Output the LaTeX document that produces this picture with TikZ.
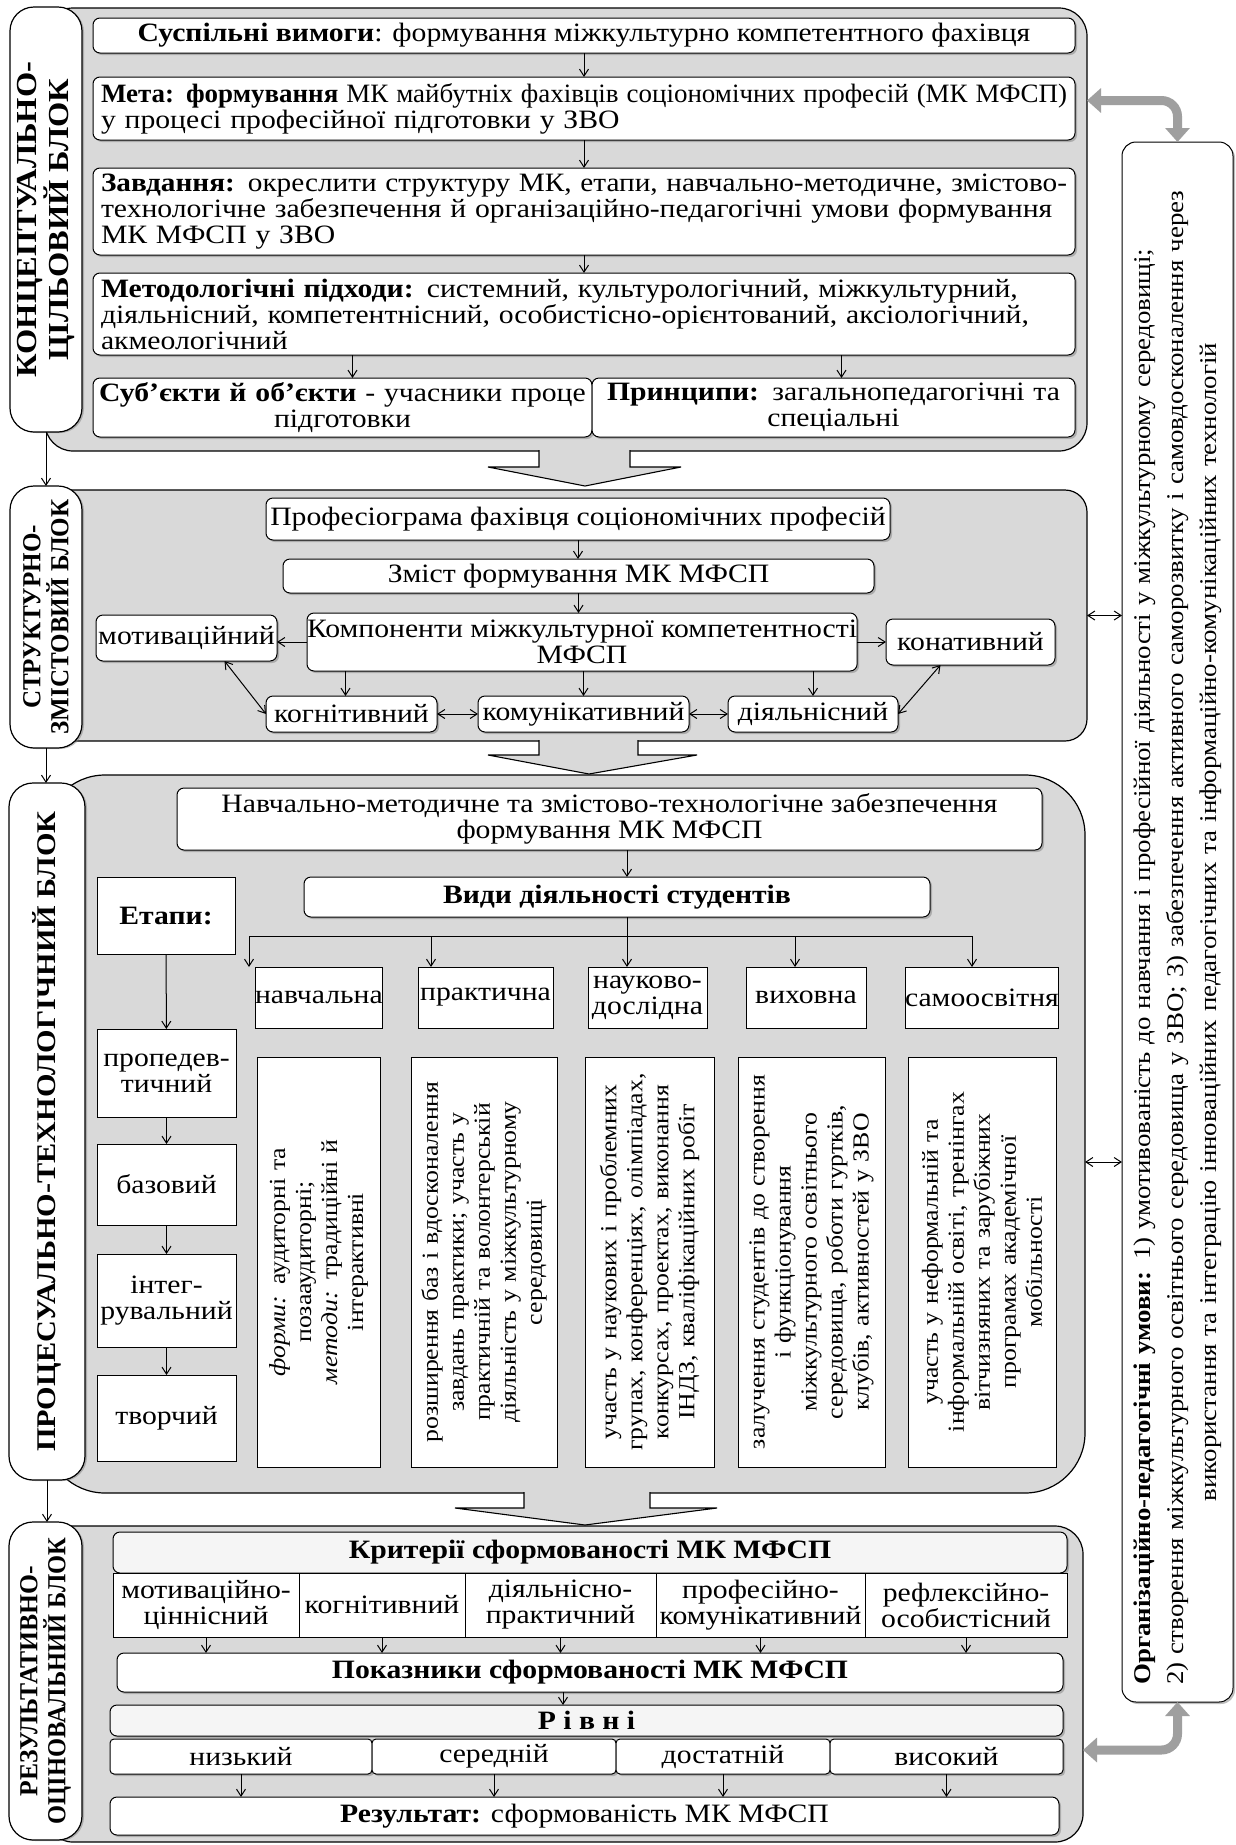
\documentclass[tikz,border=0pt]{standalone}
\usepackage{graphicx}
\usepackage{fontspec}
\setmainfont{Liberation Serif}[FakeStretch=1.12]
\usetikzlibrary{arrows.meta,shadows,calc}
\newcommand\fmain{\fontsize{26.5}{26}\selectfont}
\newcommand\fsmall{\fontsize{23}{26}\selectfont}
\newcommand\fright{\fontsize{24}{33}\selectfont}
\newsavebox\jlbox
\newcommand\jl[1]{\sbox\jlbox{#1}\ifdim\wd\jlbox>\hsize\resizebox{\hsize}{\height}{#1}\else\makebox[\hsize][s]{#1}\fi}
\begin{document}
\begin{tikzpicture}[x=1pt,y=-1pt,
 every node/.style={font=\fmain, inner sep=2pt, outer sep=0pt},
 greyblk/.style={draw=black, line width=1.2pt, fill=gray!30, anchor=north west},
 lab/.style={draw=black, line width=1.2pt, fill=white, rounded corners=24pt, anchor=north west, drop shadow={shadow xshift=2pt,shadow yshift=-1pt}},
 rbox/.style={draw=black, line width=1pt, fill=white, rounded corners=7pt, anchor=north west, drop shadow={shadow xshift=2pt,shadow yshift=-2pt}},
 lbox/.style={rbox, fill=gray!8},
 sbox/.style={draw=black, line width=1pt, fill=white, anchor=north west},
 vtext/.style={draw=black, line width=1pt, fill=white, rotate=90, font=\fsmall, align=center, inner sep=0pt},
 labtext/.style={rotate=90, align=center},
 arr/.style={-{Straight Barb[length=7pt,width=9pt]}, line width=1pt},
 darr/.style={{Straight Barb[length=7pt,width=9pt]}-{Straight Barb[length=7pt,width=9pt]}, line width=1pt},
 gthick/.style={draw=gray!75, line width=9pt, rounded corners=16pt, {Triangle[length=14pt,width=24pt]}-{Triangle[length=14pt,width=24pt]}},
 bigarr/.style={draw=black, line width=1.1pt, fill=gray!30, line join=miter}
]
\useasboundingbox (0,0) rectangle (1236,1845);
\fill[white] (0,0) rectangle (1236,1845);

% ---------- grey blocks ----------
\node[greyblk, rounded corners=28pt, minimum width=1042, minimum height=443] (g1) at (45,8) {};
\node[greyblk, rounded corners=22pt, minimum width=1042, minimum height=251] (g2) at (45,490) {};
\node[greyblk, rounded corners=60pt, minimum width=1040, minimum height=718] (g3) at (45,775) {};
\node[greyblk, rounded corners=28pt, minimum width=1038, minimum height=316] (g4) at (45,1526) {};

% big hollow arrows between blocks
\filldraw[bigarr] (539,450) -- (539,467) -- (488,467) -- (585,486) -- (681,467) -- (630,467) -- (630,450);
\filldraw[bigarr] (539,740) -- (539,755) -- (488,755) -- (589,774) -- (697,755) -- (638,755) -- (638,740);
\filldraw[bigarr] (524,1492) -- (524,1508) -- (455,1508) -- (585,1525) -- (717,1508) -- (650,1508) -- (650,1492);

% ---------- left labels ----------
\node[lab, minimum width=72, minimum height=425] (lab1) at (10,7) {};
\node[labtext, font=\fontsize{29}{28}\selectfont\bfseries] (lab1t) at (lab1.center) {КОНЦЕПТУАЛЬНО-\\ЦІЛЬОВИЙ БЛОК};
\node[lab, minimum width=72, minimum height=262] (lab2) at (10,486) {};
\node[labtext, font=\fontsize{26}{28}\selectfont\bfseries] (lab2t) at (lab2.center) {\scalebox{0.86}[1]{СТРУКТУРНО-}\\\scalebox{0.86}[1]{ЗМІСТОВИЙ БЛОК}};
\node[lab, minimum width=76, minimum height=697] (lab3) at (9,783) {};
\node[labtext, font=\fontsize{27}{28}\selectfont\bfseries] (lab3t) at (lab3.center) {ПРОЦЕСУАЛЬНО-ТЕХНОЛОГІЧНИЙ БЛОК};
\node[lab, minimum width=73, minimum height=318] (lab4) at (9,1522) {};
\node[labtext, font=\fontsize{26}{28}\selectfont\bfseries] (lab4t) at (lab4.center) {\scalebox{0.88}[1]{РЕЗУЛЬТАТИВНО-}\\\scalebox{0.84}[1]{ОЦІНОВАЛЬНИЙ БЛОК}};

\draw[arr] (lab1.south) -- (lab2.north);
\draw[arr] (lab2.south) -- (lab2.south |- lab3.north);
\draw[arr] (lab3.south) -- (lab3.south |- lab4.north);

% ---------- block 1 ----------
\node[rbox, minimum width=982, minimum height=35, align=center] (soc) at (93,18) {\textbf{Суспільні вимоги}: формування міжкультурно компетентного фахівця};
\node[rbox, minimum width=982, minimum height=63, text width=966, align=left] (meta) at (93,77) {\jl{\textbf{Мета: формування} МК майбутніх фахівців соціономічних професій (МК МФСП)}\\у процесі професійної підготовки у ЗВО};
\node[rbox, minimum width=982, minimum height=87, text width=966, align=left] (zavd) at (93,168) {\jl{\textbf{Завдання:} окреслити структуру МК, етапи, навчально-методичне, змістово-}\\\jl{технологічне забезпечення й організаційно-педагогічні умови формування}\\МК МФСП у ЗВО};
\node[rbox, minimum width=982, minimum height=82, text width=966, align=left] (metod) at (93,273) {\jl{\textbf{Методологічні підходи:} системний, культурологічний, міжкультурний,}\\\jl{діяльнісний, компетентнісний, особистісно-орієнтований, аксіологічний,}\\акмеологічний};
\node[rbox, minimum width=499, minimum height=59, text width=492, align=center] (subj) at (93,378) {\textbf{Суб’єкти й об’єкти} - учасники проце\\підготовки};
\node[rbox, minimum width=483, minimum height=59, text width=474, align=center] (princ) at (592,378) {\textbf{Принципи:} загальнопедагогічні та\\спеціальні};
\draw[arr] (soc) -- (meta);
\draw[arr] (meta) -- (zavd);
\draw[arr] (zavd) -- (metod);
\draw[arr] ([xshift=10pt]metod.south -| subj.north) -- ([xshift=10pt]subj.north);
\draw[arr] ([xshift=8pt]metod.south -| princ.north) -- ([xshift=8pt]princ.north);

% ---------- block 2 ----------
\node[rbox, minimum width=624, minimum height=42] (prof) at (266,498) {Професіограма фахівця соціономічних професій};
\node[rbox, minimum width=591, minimum height=34] (zmist) at (283,559) {Зміст формування МК МФСП};
\node[rbox, minimum width=547, minimum height=58, align=center, inner xsep=0pt] (komp) at (307,613) {Компоненти міжкультурної компетентності\\МФСП};
\node[rbox, minimum width=181, minimum height=46, inner xsep=0pt] (motiv) at (96,615) {мотиваційний};
\node[rbox, minimum width=169, minimum height=46, inner xsep=0pt] (konat) at (886,619) {конативний};
\node[rbox, minimum width=171, minimum height=36, inner xsep=0pt] (kogn) at (266,696) {когнітивний};
\node[rbox, minimum width=211, minimum height=36, inner xsep=0pt] (komun) at (478,696) {комунікативний};
\node[rbox, minimum width=170, minimum height=36, inner xsep=0pt] (diyal) at (728,696) {діяльнісний};
\draw[arr] (prof) -- (prof |- zmist.north);
\draw[arr] (zmist.south) -- (zmist.south |- komp.north);
\draw[arr] (komp.west) -- (komp.west -| motiv.east);
\draw[arr] (komp.east) -- (komp.east -| konat.west);
\draw[arr] ([xshift=-6pt]komp.south -| kogn.north) -- ([xshift=-6pt]kogn.north);
\draw[arr] (komp.south -| komun.north) -- (komun.north);
\draw[arr] (komp.south -| diyal.north) -- (diyal.north);
\draw[darr] ([xshift=38pt]motiv.south) -- (kogn.west);
\draw[darr] ([xshift=-30pt]konat.south) -- (diyal.east);
\draw[darr] (kogn) -- (komun);
\draw[darr] (komun) -- (diyal);

% ---------- block 3 ----------
\node[rbox, minimum width=865, minimum height=62, align=center] (navch) at (177,788) {Навчально-методичне та змістово-технологічне забезпечення\\формування МК МФСП};
\node[rbox, minimum width=626, minimum height=40] (vydy) at (304,877) {\textbf{Види діяльності студентів}};
\node[sbox, minimum width=138, minimum height=77] (etapy) at (97,877) {\textbf{Етапи:}};
\node[sbox, minimum width=139, minimum height=88, align=center] (st1) at (97,1029) {пропедев-\\тичний};
\node[sbox, minimum width=139, minimum height=81] (st2) at (97,1144) {базовий};
\node[sbox, minimum width=139, minimum height=93, align=center] (st3) at (97,1254) {інтег-\\рувальний};
\node[sbox, minimum width=139, minimum height=86] (st4) at (97,1375) {творчий};
\draw[arr] (etapy) -- (st1);
\draw[arr] (st1) -- (st2);
\draw[arr] (st2) -- (st3);
\draw[arr] (st3) -- (st4);

\node[sbox, minimum width=123, minimum height=61, inner xsep=0pt] (a1) at (255,967) {навчальна};
\node[sbox, minimum width=135, minimum height=61, inner xsep=0pt] (a2) at (418,967) {практична};
\node[sbox, minimum width=119, minimum height=61, inner xsep=0pt, align=center] (a3) at (588,967) {науково-\\дослідна};
\node[sbox, minimum width=120, minimum height=61, inner xsep=0pt] (a4) at (746,967) {виховна};
\node[sbox, minimum width=152, minimum height=61, inner xsep=0pt] (a5) at (905,967) {самоосвітня};

\coordinate (b1) at (249,936);
\coordinate (b2) at (431,936);
\coordinate (b3) at (627,936);
\coordinate (b4) at (795,936);
\coordinate (b5) at (972,936);
\draw[arr] (navch.south -| b3) -- (vydy.north -| b3);
\draw[arr] (vydy.south -| b3) -- (b3 |- a3.north);
\draw[line width=1pt] (b1) -- (b5);
\draw[arr] (b1) -- (b1 |- a1.north);
\draw[arr] (b2) -- (b2 |- a2.north);
\draw[arr] (b4) -- (b4 |- a4.north);
\draw[arr] (b5) -- (b5 |- a5.north);

\node[vtext, minimum width=410, minimum height=123, text width=390] (t1) at (318.5,1262) {\textit{форми:} аудиторні та\\позааудиторні;\\\textit{методи:} традиційні й\\інтерактивні};
\node[vtext, minimum width=410, minimum height=146, text width=400] (t2) at (484,1262) {розширення баз і вдосконалення\\завдань практики; участь у\\практичній та волонтерській\\діяльність у  міжкультурному\\середовищі};
\node[vtext, minimum width=410, minimum height=129, text width=400] (t3) at (649.5,1262) {участь у наукових і проблемних\\групах, конференціях, олімпіадах,\\конкурсах, проектах, виконання\\ІНДЗ,  кваліфікаційних робіт};
\node[vtext, minimum width=410, minimum height=147, text width=400] (t4) at (811.5,1262) {залучення студентів до створення\\і функціонування\\міжкультурного освітнього\\середовища, роботи гуртків,\\клубів, активностей у ЗВО};
\node[vtext, minimum width=410, minimum height=148, text width=400] (t5) at (982,1262) {участь у неформальній та\\інформальній освіті, тренінгах\\вітчизняних та зарубіжних\\програмах академічної\\мобільності};

% ---------- block 4 ----------
\node[lbox, minimum width=954, minimum height=41] (krit) at (113,1532) {\textbf{Критерії сформованості МК МФСП}};
\node[sbox, minimum width=186, minimum height=64, align=center, inner xsep=0pt] (c1) at (113,1573) {мотиваційно-\\ціннісний};
\node[sbox, minimum width=166, minimum height=64, inner xsep=0pt] (c2) at (299,1573) {когнітивний};
\node[sbox, minimum width=191, minimum height=64, align=center, inner xsep=0pt] (c3) at (465,1573) {діяльнісно-\\практичний};
\node[sbox, minimum width=209, minimum height=64, align=center, inner xsep=0pt] (c4) at (656,1573) {професійно-\\комунікативний};
\node[sbox, minimum width=202, minimum height=64, align=center, inner xsep=0pt] (c5) at (865,1573) {рефлексійно-\\особистісний};
\node[rbox, minimum width=946, minimum height=39] (pokaz) at (117,1653) {\textbf{Показники сформованості МК МФСП}};
\foreach \i in {1,...,5} {\draw[arr] (c\i.south) -- (c\i.south |- pokaz.north);}
\node[lbox, minimum width=953, minimum height=31] (rivni) at (110,1705) {\textbf{Р і в н і}};
\draw[arr] ([xshift=-27pt]pokaz.south) -- ([xshift=-27pt]pokaz.south |- rivni.north);
\node[rbox, rounded corners=4pt, minimum width=262, minimum height=35] (l1) at (110,1739) {низький};
\node[rbox, rounded corners=4pt, minimum width=244, minimum height=35] (l2) at (372,1739) {середній};
\node[rbox, rounded corners=4pt, minimum width=214, minimum height=35] (l3) at (616,1739) {достатній};
\node[rbox, rounded corners=4pt, minimum width=233, minimum height=35] (l4) at (830,1739) {високий};
\node[rbox, minimum width=949, minimum height=38] (rez) at (110,1797) {\textbf{Результат:} сформованість МК МФСП};
\foreach \i in {1,...,4} {\draw[arr] (l\i.south) -- (l\i.south |- rez.north);}

% ---------- right box ----------
\node[rbox, rounded corners=14pt, minimum width=111, minimum height=1560] (rb) at (1122,142) {};
\node[rotate=90, font=\fright, text width=1525, align=center] (rbt) at (rb.center) {\jl{\textbf{Організаційно-педагогічні умови:} 1) умотивованість до навчання і професійної діяльності у міжкультурному середовищі;}\\\jl{2) створення міжкультурного освітнього середовища у ЗВО; 3) забезпечення активного саморозвитку і самовдосконалення через}\\використання та інтеграцію  інноваційних педагогічних та інформаційно-комунікаційних технологій};

\draw[darr] (g2.east) -- (g2.east -| rb.west);
\draw[darr] ([yshift=-28pt]g3.east) -- ([yshift=-28pt]g3.east -| rb.west);
\draw[gthick] ([yshift=8pt]meta.east -| g1.east) -| (rb.north);
\draw[gthick] (rb.south) |- ([yshift=-66pt]g4.east);
\end{tikzpicture}
\end{document}
